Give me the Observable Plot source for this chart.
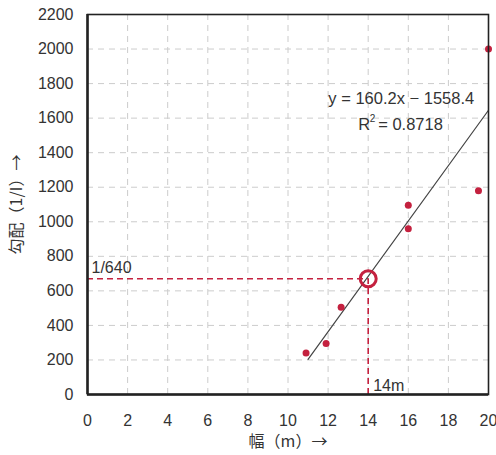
<!DOCTYPE html>
<html>
<head>
<meta charset="utf-8">
<script src="https://cdn.jsdelivr.net/npm/d3@7"></script>
<script src="https://cdn.jsdelivr.net/npm/@observablehq/plot@0.6"></script>
<style>
  html, body { margin: 0; padding: 0; background: #fff; }
  [aria-label="x-axis label"] text, [aria-label="y-axis label"] text { font-family: "Noto Sans CJK JP", sans-serif; }
</style>
</head>
<body>
<div id="chart"></div>
<script>
// Data
const widths = [10.9, 11.9, 12.65, 16.0, 16.0, 19.5, 20.0];       // 幅 (m)
const gradients = [240, 295, 505, 960, 1095, 1180, 2000];        // 勾配 (1/I)
const slope = 160.2, intercept = -1558.4, r2 = 0.8718;
const fitRange = [11, 20];
const pickX = [14];
const pickY = [670];
const xTicks = [0, 2, 4, 6, 8, 10, 12, 14, 16, 18, 20];
const yTicks = [0, 200, 400, 600, 800, 1000, 1200, 1400, 1600, 1800, 2000, 2200];

const points = widths.map((w, i) => ({x: w, y: gradients[i]}));
const fit = fitRange.map(x => ({x, y: slope * x + intercept}));
const red = "#c4213f";

const chart = Plot.plot({
  width: 496,
  height: 455,
  marginLeft: 87,
  marginRight: 8,
  marginTop: 14,
  marginBottom: 61,
  style: {fontFamily: "'Liberation Sans', Arial, sans-serif", fontSize: "16px", color: "#333", background: "#fff"},
  x: {domain: [0, 20]},
  y: {domain: [0, 2200]},
  marks: [
    Plot.ruleX(xTicks.slice(1, -1), {stroke: "#ccc", strokeDasharray: "6,5", strokeWidth: 1}),
    Plot.ruleY(yTicks.slice(1, -1), {stroke: "#ccc", strokeDasharray: "6,5", strokeWidth: 1}),
    Plot.axisX({ticks: xTicks, tickFormat: d => String(d), tickSize: 0, tickPadding: 20, fontSize: 16,
      label: "幅（m）→", labelAnchor: "center", labelArrow: "none", labelOffset: 52}),
    Plot.axisY({ticks: yTicks, tickFormat: d => String(d), tickSize: 0, tickPadding: 14, fontSize: 16,
      label: "勾配（1/I）→", labelAnchor: "center", labelArrow: "none", labelOffset: 77}),
    Plot.ruleY(pickY, {x1: 0, x2: pickX[0], stroke: red, strokeDasharray: "6,4", strokeWidth: 1.6}),
    Plot.ruleX(pickX, {y1: 0, y2: pickY[0], stroke: red, strokeDasharray: "6,4", strokeWidth: 1.6}),
    Plot.line(fit, {x: "x", y: "y", stroke: "#444", strokeWidth: 1.2}),
    Plot.dot(points, {x: "x", y: "y", r: 3.5, fill: red, stroke: "none"}),
    Plot.dot(pickX.map((x, i) => ({x, y: pickY[i]})), {x: "x", y: "y", r: 8, stroke: red, strokeWidth: 3, fill: "none"}),
    Plot.text([`y = ${slope}x − ${-intercept}`], {x: 15.65, y: 1710, fontSize: 16.5, fill: "#333"}),
    Plot.text(["R"], {x: 13.5, y: 1560, textAnchor: "start", fontSize: 16.5, fill: "#333"}),
    Plot.text(["2"], {x: 13.5, y: 1560, dx: 11.5, dy: -6, textAnchor: "start", fontSize: 10, fill: "#333"}),
    Plot.text([`= ${r2}`], {x: 13.5, y: 1560, dx: 20, textAnchor: "start", fontSize: 16.5, fill: "#333"}),
    Plot.text(["1/640"], {x: 0.2, y: 735, textAnchor: "start", fontSize: 16, fill: "#333"}),
    Plot.text(["14m"], {x: pickX[0], y: 50, dx: 5, textAnchor: "start", fontSize: 16, fill: "#333"}),
    Plot.frame({stroke: "#222", strokeWidth: 1.6}),
    Plot.ruleX([0], {stroke: "#222", strokeWidth: 2.5}),
    Plot.ruleY([0], {stroke: "#222", strokeWidth: 2.5})
  ]
});
document.getElementById("chart").appendChild(chart);
</script>
</body>
</html>
